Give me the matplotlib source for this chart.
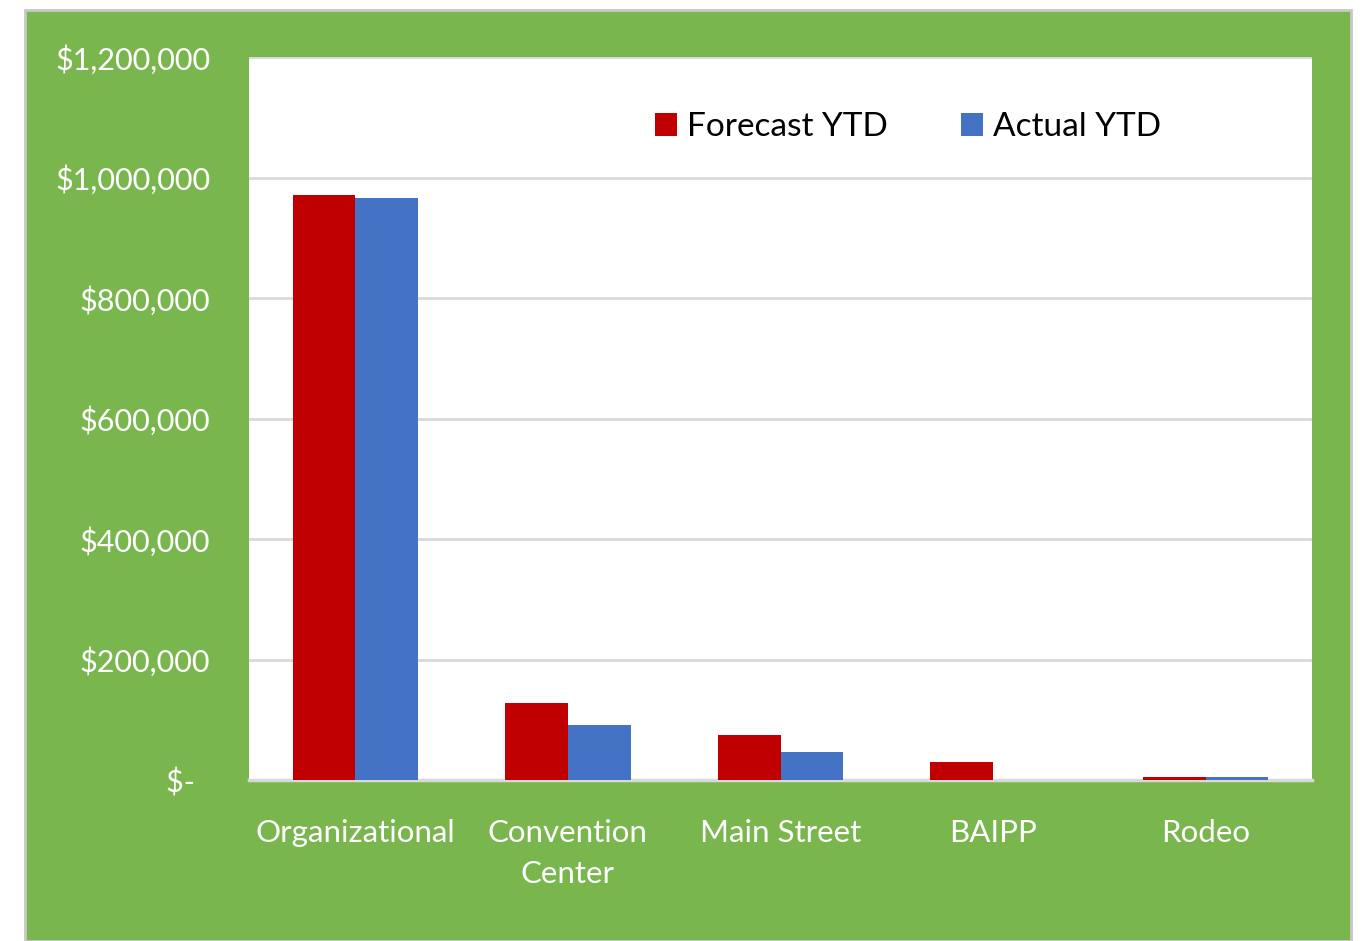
import numpy as np
import matplotlib
matplotlib.use('Agg')
import matplotlib.pyplot as plt
from matplotlib.patches import Rectangle

categories = ['Organizational', 'Convention\nCenter', 'Main Street', 'BAIPP', 'Rodeo']
forecast_ytd = [971000, 128000, 75000, 30000, 4500]
actual_ytd = [966000, 91000, 46500, 0, 4500]
y_ticks = [0, 200000, 400000, 600000, 800000, 1000000, 1200000]
y_tick_labels = ['$-  ', '$200,000', '$400,000', '$600,000', '$800,000', '$1,000,000', '$1,200,000']

plt.rcParams['font.family'] = ['Lato', 'DejaVu Sans']

W, H = 1369, 941
fig = plt.figure(figsize=(W / 100, H / 100), dpi=100, facecolor='white')

# green chart-area panel
fig.patches.append(Rectangle((25 / W, 0), (1351 - 25) / W, 1 - 10 / H,
                             transform=fig.transFigure, facecolor='#7AB64E',
                             edgecolor='#C8C8C8', linewidth=2, zorder=-10))

ax = fig.add_axes([249 / W, 1 - 780 / H, (1312 - 249) / W, (780 - 57) / H])
ax.set_zorder(1)
ax.set_facecolor('white')

x = np.arange(len(categories))
w = 0.295
ax.bar(x - w / 2, forecast_ytd, w, color='#C00000', label='Forecast YTD', zorder=3)
ax.bar(x + w / 2, actual_ytd, w, color='#4472C4', label='Actual YTD', zorder=3)

ax.set_xlim(-0.5, len(categories) - 0.5)
ax.set_ylim(0, 1200000)
ax.set_yticks(y_ticks)
ax.set_yticklabels(y_tick_labels, fontsize=22)
ax.set_xticks(x)
ax.set_xticklabels(categories, fontsize=22.5, linespacing=1.55)

ax.grid(axis='y', color='#D9D9D9', linewidth=2, zorder=0)
ax.tick_params(axis='both', length=0, colors='white')
ax.tick_params(axis='y', pad=28)
ax.tick_params(axis='x', pad=28)
for s in ['top', 'left', 'right']:
    ax.spines[s].set_visible(False)
ax.spines['bottom'].set_color('#D9D9D9')
ax.spines['bottom'].set_linewidth(2.5)

ax.legend(loc='center', bbox_to_anchor=(0.62, 0.903), ncol=2, frameon=False,
          fontsize=24, handlelength=0.65, handleheight=0.65, handletextpad=0.3,
          columnspacing=2.2)

fig.savefig('out.png', dpi=100, facecolor='white')
